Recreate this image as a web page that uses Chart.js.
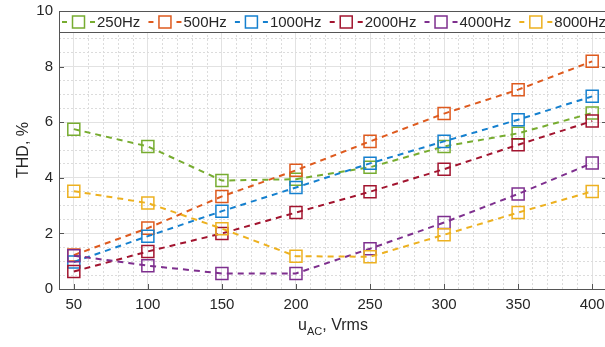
<!DOCTYPE html>
<html>
<head>
<meta charset="utf-8">
<script src="https://cdn.jsdelivr.net/npm/chart.js@4"></script>
<style>
  html, body { margin: 0; padding: 0; background: #fff; overflow: hidden; }
  #wrap { width: 605px; height: 347px; overflow: hidden; }
</style>
</head>
<body>
<div id="wrap"><canvas id="thd" width="617" height="347"></canvas></div>
<script>
// ── data ──
const voltages = [50, 100, 150, 200, 250, 300, 350, 400];
const seriesNames = ["250Hz", "500Hz", "1000Hz", "2000Hz", "4000Hz", "8000Hz"];
const thd250  = [5.75, 5.13, 3.90, 3.95, 4.38, 5.13, 5.60, 6.33];
const thd500  = [1.22, 2.19, 3.33, 4.27, 5.31, 6.31, 7.17, 8.19];
const thd1000 = [0.97, 1.90, 2.80, 3.65, 4.52, 5.31, 6.09, 6.93];
const thd2000 = [0.63, 1.35, 2.00, 2.75, 3.50, 4.31, 5.19, 6.04];
const thd4000 = [1.20, 0.84, 0.56, 0.56, 1.45, 2.39, 3.42, 4.53];
const thd8000 = [3.52, 3.09, 2.17, 1.18, 1.16, 1.95, 2.75, 3.51];
const xTickLabels = [50, 100, 150, 200, 250, 300, 350, 400];
const yTickLabels = [0, 2, 4, 6, 8, 10];

const allSeries = [thd250, thd500, thd1000, thd2000, thd4000, thd8000];
const colors = ["#77AC30", "#DE5A1E", "#1580CF", "#A2142F", "#7E2F8E", "#EDB120"];

const FONT = "'Liberation Sans', Arial, sans-serif";
const AXIS_COL = "#555555";
const TEXT_COL = "#262626";
const MAJOR_GRID = "#e2e2e2";
const MINOR_GRID = "#dcdcdc";

// ── box, inward ticks, titles, legend ──
const decorPlugin = {
  id: "decor",
  afterDatasetsDraw(chart) {
    const { ctx, chartArea: a, scales } = chart;
    ctx.save();
    // box
    ctx.strokeStyle = AXIS_COL;
    ctx.lineWidth = 1;
    ctx.strokeRect(a.left + 0.5, a.top + 0.5, a.right - a.left - 1, a.bottom - a.top);
    // inward tick marks
    ctx.beginPath();
    xTickLabels.forEach((v) => {
      const px = Math.round(scales.x.getPixelForValue(v)) + 0.5;
      ctx.moveTo(px, a.bottom); ctx.lineTo(px, a.bottom - 5);
    });
    yTickLabels.forEach((v) => {
      const py = Math.round(scales.y.getPixelForValue(v)) + 0.5;
      ctx.moveTo(a.left, py); ctx.lineTo(a.left + 5, py);
      ctx.moveTo(a.right, py); ctx.lineTo(a.right - 5, py);
    });
    ctx.stroke();

    // legend (inside, top)
    const lh = 21;
    ctx.fillStyle = "#fff";
    ctx.fillRect(a.left + 1, a.top + 1, a.right - a.left - 2, lh - 1);
    ctx.beginPath();
    ctx.moveTo(a.left, a.top + lh + 0.5);
    ctx.lineTo(a.right, a.top + lh + 0.5);
    ctx.stroke();
    ctx.font = "15px " + FONT;
    ctx.textBaseline = "middle";
    ctx.textAlign = "left";
    const cy = a.top + lh / 2 + 0.5;
    let x = a.left + 3;
    seriesNames.forEach((name, i) => {
      ctx.strokeStyle = colors[i];
      ctx.lineWidth = 2;
      ctx.beginPath();
      ctx.moveTo(x, cy); ctx.lineTo(x + 5, cy);
      ctx.moveTo(x + 28, cy); ctx.lineTo(x + 33, cy);
      ctx.stroke();
      ctx.lineWidth = 1.5;
      ctx.strokeRect(x + 10.5, cy - 6, 12, 12);
      ctx.fillStyle = TEXT_COL;
      ctx.fillText(name, x + 35, cy + 1);
      x += 35 + ctx.measureText(name).width + 8.1;
    });

    // axis titles
    ctx.fillStyle = TEXT_COL;
    ctx.font = "16px " + FONT;
    ctx.textBaseline = "alphabetic";
    const midX = (a.left + a.right) / 2;
    const parts = [["u", "16px"], ["AC", "11px"], [", Vrms", "16px"]];
    let tw = 0;
    parts.forEach(([t, s]) => { ctx.font = s + " " + FONT; tw += ctx.measureText(t).width; });
    let tx = midX - tw / 2;
    const by = 330;
    parts.forEach(([t, s], k) => {
      ctx.font = s + " " + FONT;
      ctx.fillText(t, tx, k === 1 ? by + 5 : by);
      tx += ctx.measureText(t).width;
    });
    ctx.translate(28, (a.top + a.bottom) / 2);
    ctx.rotate(-Math.PI / 2);
    ctx.font = "16px " + FONT;
    ctx.textAlign = "center";
    ctx.fillText("THD, %", 0, 0);
    ctx.restore();
  },
};

const isMajorX = (v) => v % 50 === 0 && v >= 50 && v <= 400;
const isMajorY = (v) => Math.abs(v % 2) < 1e-9;

new Chart(document.getElementById("thd"), {
  type: "line",
  data: {
    datasets: allSeries.map((vals, i) => ({
      label: seriesNames[i],
      data: vals.map((y, k) => ({ x: voltages[k], y })),
      borderColor: colors[i],
      borderWidth: 2,
      borderDash: [6, 5],
      fill: false,
      tension: 0,
      pointStyle: "rect",
      pointRadius: 8.5,
      pointBorderWidth: 1.5,
      pointBorderColor: colors[i],
      pointBackgroundColor: "rgba(0,0,0,0)",
      order: -i,
    })),
  },
  options: {
    responsive: false,
    animation: false,
    events: [],
    layout: { padding: { top: 11, right: 0, left: 0, bottom: 0 } },
    plugins: { legend: { display: false }, tooltip: { enabled: false } },
    scales: {
      x: {
        type: "linear",
        min: 40,
        max: 410,
        afterFit: (s) => { s.height = 58; s.paddingLeft = 0; s.paddingRight = 0; },
        border: {
          display: false,
          dash: (c) => (c.tick && isMajorX(c.tick.value) ? [] : [2, 2]),
        },
        grid: {
          drawTicks: false,
          color: (c) => (c.tick && isMajorX(c.tick.value) ? MAJOR_GRID : MINOR_GRID),
        },
        ticks: {
          stepSize: 10,
          maxTicksLimit: 1000,
          autoSkip: false,
          maxRotation: 0,
          padding: 7,
          color: TEXT_COL,
          font: { family: FONT, size: 15 },
          callback: (v) => (xTickLabels.includes(v) ? String(v) : ""),
        },
      },
      y: {
        min: 0,
        max: 10,
        afterFit: (s) => { s.width = 59; s.paddingTop = 0; s.paddingBottom = 0; },
        border: {
          display: false,
          dash: (c) => (c.tick && isMajorY(c.tick.value) ? [] : [2, 2]),
        },
        grid: {
          drawTicks: false,
          color: (c) => (c.tick && isMajorY(c.tick.value) ? MAJOR_GRID : MINOR_GRID),
        },
        ticks: {
          stepSize: 0.5,
          maxTicksLimit: 1000,
          autoSkip: false,
          padding: 6,
          color: TEXT_COL,
          font: { family: FONT, size: 15 },
          callback: (v) => (yTickLabels.includes(v) ? String(v) : ""),
        },
      },
    },
  },
  plugins: [decorPlugin],
});
</script>
</body>
</html>
